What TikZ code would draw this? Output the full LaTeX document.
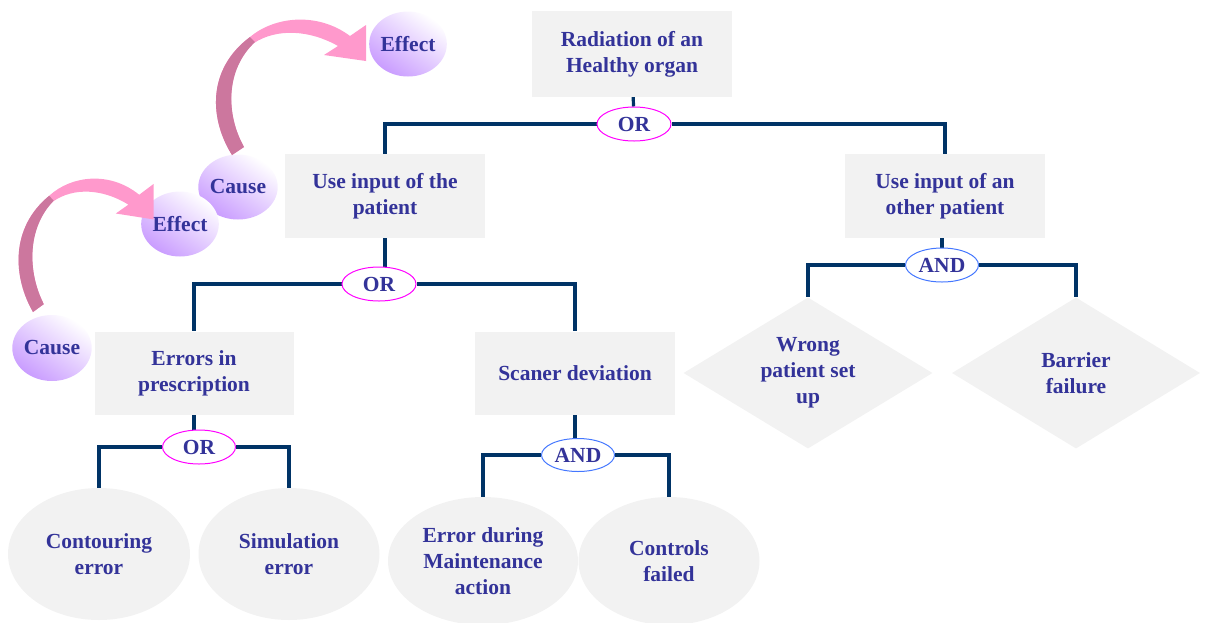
\documentclass[tikz,border=0pt]{standalone}
\usepackage{fontspec}
\setmainfont{Liberation Serif}
\usetikzlibrary{shapes.geometric,backgrounds}
\definecolor{txt}{HTML}{333399}
\definecolor{boxg}{HTML}{F2F2F2}
\definecolor{navy}{HTML}{003366}
\definecolor{orc}{HTML}{FF00FF}
\definecolor{andc}{HTML}{4477FF}
\definecolor{bubv}{HTML}{C99CFF}
\definecolor{pinkl}{HTML}{FF99CC}
\definecolor{pinkd}{HTML}{CC779E}
\newcommand\ceArrowLight{%
  (232,155) .. controls (210,120) and (206,70) .. (250,37)
  .. controls (275,16) and (318,12) .. (350,36)
  -- (366,25) -- (366,61) -- (324,55) -- (338,46)
  .. controls (310,30) and (277,28) .. (254,43)
  .. controls (225,70) and (226,115) .. (244,147) -- cycle}
\newcommand\ceArrowDark{%
  (232,155) .. controls (210,120) and (206,70) .. (250,37)
  -- (255,42)
  .. controls (225,70) and (226,115) .. (244,147) -- cycle}
\begin{document}
\begin{tikzpicture}[x=1pt,y=-1pt,
  lbl/.style={font=\fontsize{21.5}{26}\selectfont\bfseries, text=txt, align=center},
  box/.style={lbl, fill=boxg, inner sep=0pt, minimum width=200pt, minimum height=84pt},
  oval/.style={lbl, ellipse, fill=boxg, inner sep=0pt, minimum width=182pt, minimum height=132pt},
  dia/.style={lbl, diamond, fill=boxg, inner sep=0pt, aspect=1.65, minimum width=249pt, minimum height=151pt},
  gate/.style={lbl, ellipse, fill=white, inner sep=0pt, line width=1pt, minimum width=74pt, minimum height=34pt},
  orgate/.style={gate, draw=orc},
  andgate/.style={gate, draw=andc},
  bubble/.style={lbl, ellipse, inner sep=0pt, top color=white, bottom color=bubv, shading angle=-35, minimum width=76pt, minimum height=65pt},
  conn/.style={draw=navy, line width=3.2pt},
  arrlight/.style={fill=pinkl},
  arrdark/.style={fill=pinkd}
]
\useasboundingbox (0,0) rectangle (1218,622);

% tree nodes
\node[box, minimum height=86pt] (rad) at (632,54) {Radiation of an\\Healthy organ};
\node[orgate] (or1) at (634,124) {OR};
\node[box] (usep) at (385,196) {Use input of the\\patient};
\node[box] (useo) at (945,196) {Use input of an\\other patient};
\node[orgate] (or2) at (379,284) {OR};
\node[box, minimum width=199pt, minimum height=83pt] (err) at (194,373) {Errors in\\prescription};
\node[box, minimum height=83pt] (scan) at (575,373) {Scaner deviation};
\node[orgate, minimum width=73pt] (or3) at (199,447) {OR};
\node[oval] (cont) at (99,554) {Contouring\\error};
\node[oval, minimum width=181pt] (sim) at (289,554) {Simulation\\error};
\node[andgate, minimum width=73pt, minimum height=33pt] (and1) at (578,455) {AND};
\node[oval, minimum width=190pt, minimum height=128pt] (maint) at (483,561) {Error during\\Maintenance\\action};
\node[oval, minimum width=181pt, minimum height=128pt] (ctrl) at (669,561) {Controls\\failed};
\node[andgate, minimum width=73pt] (and2) at (942,265) {AND};
\node[dia] (wrong) at (808,373) {Wrong\\patient set\\up};
\node[dia, minimum width=248pt] (barr) at (1076,373) {Barrier\\failure};

% connectors
\begin{pgfonlayer}{background}
\path[conn] (rad) -- (or1);
\path[conn] (or1) -| (usep);
\path[conn] (or1) -| (useo);
\path[conn] (usep.south) -- (usep.south |- or2);
\path[conn] (or2) -| (err);
\path[conn] (or2) -| (scan);
\path[conn] (err.south) -- (err.south |- or3);
\path[conn] (or3) -| (cont);
\path[conn] (or3) -| (sim);
\path[conn] (scan.south) -- (scan.south |- and1);
\path[conn] (and1) -| (maint);
\path[conn] (and1) -| (ctrl);
\path[conn] (useo.south -| and2) -- (and2);
\path[conn] (and2) -| (wrong);
\path[conn] (and2) -| (barr);
\end{pgfonlayer}

% cause / effect bubbles
\node[bubble] (eff1) at (408,44) {Effect};
\node[bubble, minimum width=78pt] (cau1) at (238,187) {Cause};
\node[bubble, minimum width=75pt] (eff2) at (180,224) {Effect};
\node[bubble, minimum width=78pt, minimum height=66pt] (cau2) at (52,348) {Cause};

% curved arrows
\path[arrlight] \ceArrowLight;
\path[arrdark] \ceArrowDark;
\begin{scope}[shift={(33,312)}, xscale=0.9, yscale=0.985, shift={(-232,-155)}]
\path[arrlight] \ceArrowLight;
\path[arrdark] \ceArrowDark;
\end{scope}
\end{tikzpicture}
\end{document}
